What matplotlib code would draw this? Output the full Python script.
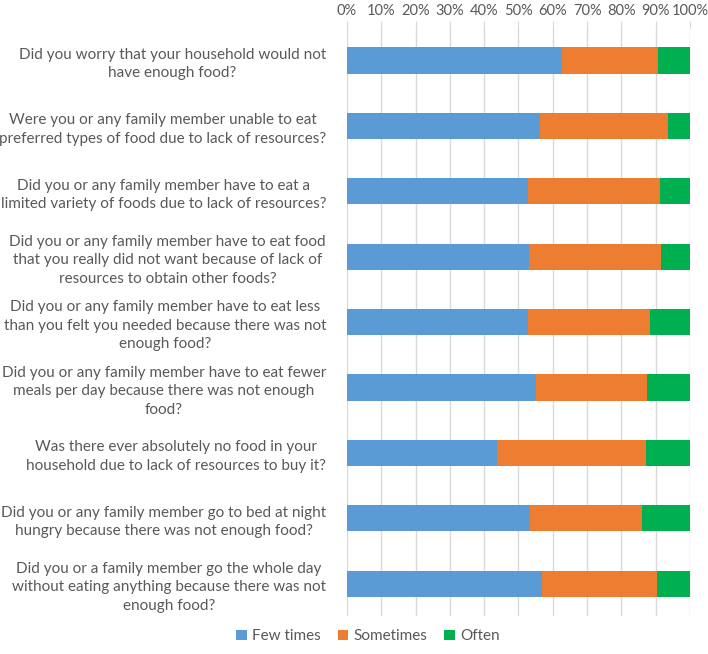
import matplotlib
matplotlib.use("Agg")
import matplotlib.pyplot as plt
import numpy as np

questions = [
    "Did you worry that your household would not\nhave enough food?",
    "Were you or any family member unable to eat\npreferred types of food due to lack of resources?",
    "Did you or any family member have to eat a\nlimited variety of foods due to lack of resources?",
    "Did you or any family member have to eat food\nthat you really did not want because of lack of\nresources to obtain other foods?",
    "Did you or any family member have to eat less\nthan you felt you needed because there was not\nenough food?",
    "Did you or any family member have to eat fewer\nmeals per day because there was not enough\nfood?",
    "Was there ever absolutely no food in your\nhousehold due to lack of resources to buy it?",
    "Did you or any family member go to bed at night\nhungry because there was not enough food?",
    "Did you or a family member go the whole day\nwithout eating anything because there was not\nenough food?",
]
few_times = [62.8, 56.3, 52.8, 53.0, 52.9, 55.1, 43.6, 53.3, 57.0]
sometimes = [28.0, 37.2, 38.4, 38.5, 35.3, 32.4, 43.5, 32.6, 33.3]
often = [9.2, 6.5, 8.8, 8.5, 11.8, 12.5, 12.9, 14.1, 9.7]
series_names = ["Few times", "Sometimes", "Often"]
colors = ["#5B9BD5", "#ED7D31", "#00B050"]

plt.rcParams['font.family'] = ['Lato', 'DejaVu Sans']
text_color = "#595959"

fig = plt.figure(figsize=(7.08, 6.54), dpi=100)
ax = fig.add_axes([0.490, 0.0575, 0.4846, 0.9000])

y = np.arange(len(questions))
left = np.zeros(len(questions))
for vals, name, c in zip([few_times, sometimes, often], series_names, colors):
    ax.barh(y, vals, left=left, height=0.40, color=c, label=name, zorder=3)
    left = left + np.array(vals)

ax.set_xlim(0, 100)
ax.set_ylim(len(questions) - 0.5, -0.5)
ax.set_xticks(np.arange(0, 101, 10))
ax.set_xticklabels([f"{v}%" for v in range(0, 101, 10)])
ax.xaxis.tick_top()
ax.tick_params(axis='x', colors="#D9D9D9", labelcolor=text_color, labelsize=10.5, length=5, pad=2)
ax.set_yticks(y)
ax.set_yticklabels(questions, multialignment='center', fontsize=11, color=text_color,
                   linespacing=1.4)
ax.tick_params(axis='y', length=0, pad=15)
ax.grid(axis='x', color="#D9D9D9", linewidth=1, zorder=0)
for s in ax.spines.values():
    s.set_visible(False)

handles, labels = ax.get_legend_handles_labels()
fig.legend(handles, labels, loc='center', bbox_to_anchor=(0.52, 0.027), ncol=3,
           frameon=False, fontsize=11, labelcolor=text_color,
           handlelength=0.7, handleheight=0.7, handletextpad=0.35, columnspacing=1.1)

fig.savefig("out.png", dpi=100)
